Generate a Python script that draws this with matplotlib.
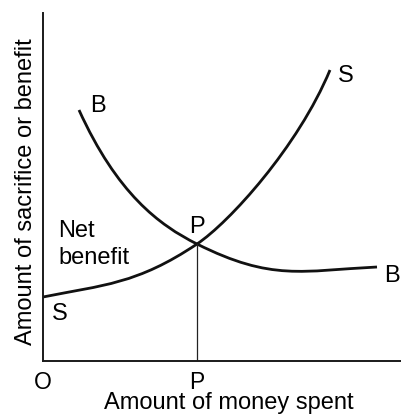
import matplotlib
matplotlib.use('Agg')
import matplotlib.pyplot as plt
from matplotlib.path import Path
from matplotlib.patches import PathPatch

plt.rcParams['font.family'] = ['Liberation Sans', 'DejaVu Sans']

# (x = money spent, y = sacrifice/benefit)
s_pts = [(0, 64), (60, 76), (94, 76.8), (154, 117),
         (186, 138.4), (255, 214), (287, 291)]
b_pts = [(36, 251), (74, 167.4), (116, 136), (154, 117),
         (229, 79.5), (259, 90.25), (334, 94)]
p_x = 154
p_y = 117
tick_pos = [0, p_x]
tick_lab = ['O', 'P']

fig = plt.figure(figsize=(4.02, 4.17), dpi=100)
ax = fig.add_axes([43/402, 56/417, 359/402, 348/417])
ax.set_xlim(0, 359)
ax.set_ylim(0, 348)

codes = [Path.MOVETO] + [Path.CURVE4] * 6
for pts in [s_pts, b_pts]:
    ax.add_patch(PathPatch(Path(pts, codes), fc='none', ec='#111111', lw=2.0))
ax.plot([p_x, p_x], [0, p_y], color='#222222', lw=0.9)

for sp in ['top', 'right']:
    ax.spines[sp].set_visible(False)
for sp in ['left', 'bottom']:
    ax.spines[sp].set_linewidth(1.4)
    ax.spines[sp].set_color('#1a1a1a')

ax.set_yticks([])
ax.set_xticks(tick_pos, tick_lab, fontsize=16.5)
ax.tick_params(axis='x', length=0, pad=7)

ax.set_xlabel('Amount of money spent', fontsize=17)
ax.xaxis.set_label_coords(0.518, -0.09)
ax.set_ylabel('Amount of sacrifice or benefit', fontsize=17)
ax.yaxis.set_label_coords(-0.017, 0.486)

fs = 17
ax.text(47, 249, 'B', fontsize=fs, va='baseline')
ax.text(295, 279, 'S', fontsize=fs, va='baseline')
ax.text(146, 128, 'P', fontsize=fs, va='baseline')
ax.text(15, 124, 'Net', fontsize=fs, va='baseline')
ax.text(15, 97, 'benefit', fontsize=fs, va='baseline')
ax.text(9, 41, 'S', fontsize=fs, va='baseline')
ax.text(341, 79, 'B', fontsize=fs, va='baseline')

fig.savefig('out.png', dpi=100)
